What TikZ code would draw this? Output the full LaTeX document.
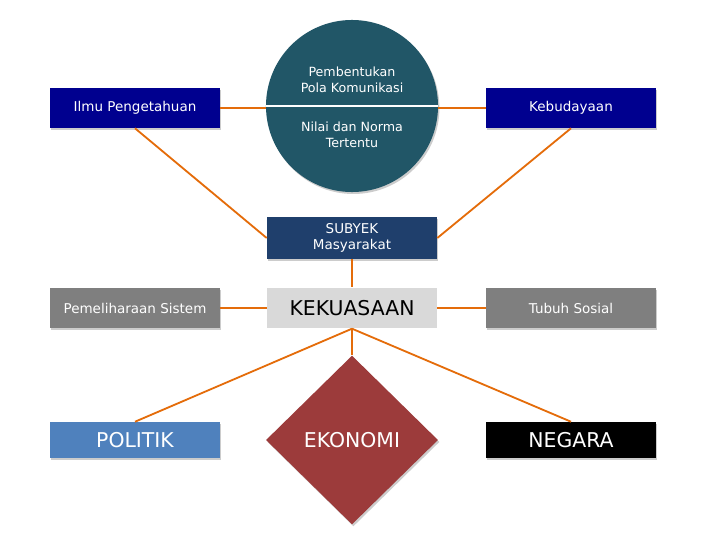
\documentclass[tikz,border=0pt]{standalone}
\usepackage{fontspec}
\setmainfont{DejaVu Sans}
\usetikzlibrary{shadows}
\usetikzlibrary{positioning}
\usetikzlibrary{shapes.geometric}
\usetikzlibrary{calc}

\definecolor{garis}{HTML}{E46C0A}
\definecolor{biru}{HTML}{00008F}
\definecolor{teal}{HTML}{215667}
\definecolor{navy}{HTML}{1F3F6C}
\definecolor{abu}{HTML}{D9D9D9}
\definecolor{kelabu}{HTML}{7F7F7F}
\definecolor{politik}{HTML}{4F81BD}
\definecolor{merah}{HTML}{9C3B3B}

\tikzset{
  kotak/.style={rectangle, minimum width=4.25cm, minimum height=1cm, inner sep=0pt,
    text=white, align=center,
    drop shadow={shadow xshift=1pt, shadow yshift=-1.4pt, opacity=0.4}},
  besar/.style={font=\fontsize{14.5}{17}\selectfont},
  hubung/.style={draw=garis, line width=1.3pt}
}

\begin{document}
\begin{tikzpicture}[x=0.025cm, y=-0.025cm, font=\fontsize{9.6}{11.5}\selectfont]

 \useasboundingbox (0,0) rectangle (720,540);

 %top row
 \node[kotak, fill=biru] (ilmu) at (135,108) {Ilmu Pengetahuan};
 \node[kotak, fill=biru] (budaya) at (571,108) {Kebudayaan};

 %circle
 \node[circle, fill=teal, minimum size=4.3cm, inner sep=0pt,
   drop shadow={shadow xshift=1pt, shadow yshift=-1.4pt, opacity=0.4}] (pola) at (352,106) {};
 \draw[white, line width=1pt] (pola.west) -- (pola.east);
 \node[text=white, align=center, font=\fontsize{9}{11}\selectfont] (pola1) at (352,80) {Pembentukan\\Pola Komunikasi};
 \node[text=white, align=center, font=\fontsize{9}{11}\selectfont] (pola2) at (352,135) {Nilai dan Norma\\Tertentu};

 %middle
 \node[kotak, fill=navy, minimum height=1.05cm] (subyek) at (352,238) {SUBYEK\\Masyarakat};
 \node[rectangle, fill=abu, minimum width=4.25cm, minimum height=1.02cm, inner sep=0pt, besar] (kuasa) at (352,308) {KEKUASAAN};
 \node[kotak, fill=kelabu] (pelihara) at (135,308) {Pemeliharaan Sistem};
 \node[kotak, fill=kelabu] (tubuh) at (571,308) {Tubuh Sosial};

 %bottom row
 \node[kotak, fill=politik, minimum height=0.9cm, besar] (politik) at (135,440) {POLITIK};
 \node[diamond, fill=merah, text=white, minimum width=4.3cm, minimum height=4.22cm, inner sep=0pt, besar,
   drop shadow={shadow xshift=1pt, shadow yshift=-1.4pt, opacity=0.4}] (ekonomi) at (352,440) {EKONOMI};
 \node[kotak, fill=black, minimum height=0.9cm, besar] (negara) at (571,440) {NEGARA};

 %lines
 \draw[hubung] (ilmu.east) -- (ilmu.east -| pola.west);
 \draw[hubung] (budaya.west -| pola.east) -- (budaya.west);
 \draw[hubung] (ilmu.south) -- (subyek.west);
 \draw[hubung] (budaya.south) -- (subyek.east);
 \draw[hubung] (subyek.south) -- (kuasa.north);
 \draw[hubung] (pelihara.east) -- (kuasa.west);
 \draw[hubung] (kuasa.east) -- (tubuh.west);
 \draw[hubung] (kuasa.south) -- (politik.north);
 \draw[hubung] (kuasa.south) -- (negara.north);
 \draw[hubung] (kuasa.south) -- (ekonomi.north);

\end{tikzpicture}
\end{document}
